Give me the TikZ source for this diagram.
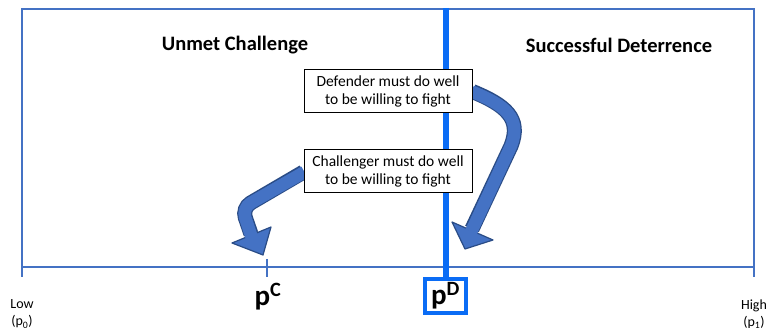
\documentclass[tikz,border=0pt]{standalone}
\usepackage{fontspec}
\setmainfont{Carlito}
\begin{document}
\begin{tikzpicture}[x=1pt,y=-1pt,
  framecol/.style={draw=axisblue,line width=1.5pt},
  tbox/.style={draw=black,line width=1pt,fill=white,align=center,font=\fontsize{15.5}{18}\selectfont,minimum width=168pt,minimum height=43pt,inner sep=2pt},
  title/.style={font=\fontsize{20.5}{24}\selectfont\bfseries},
  endlbl/.style={align=center,font=\fontsize{14}{17}\selectfont},
  plbl/.style={font=\fontsize{29}{32}\selectfont\bfseries},
  arrout/.style={draw=arrdark,line width=15pt},
  arrin/.style={draw=arrfill,line width=12.5pt},
  arrhead/.style={fill=arrfill,draw=arrdark,line width=1.2pt,line join=round}]
\definecolor{axisblue}{HTML}{4472C4}
\definecolor{vblue}{HTML}{0A6CF5}
\definecolor{arrfill}{HTML}{4472C4}
\definecolor{arrdark}{HTML}{2A4C86}
\useasboundingbox (0,0) rectangle (770,328);
% frame
\draw[framecol] (22,267) -- (22,9) -- (754,9) -- (754,267);
% axis
\coordinate (L) at (22,267);
\coordinate (R) at (754,267);
\draw[draw=axisblue,line width=2.5pt] (L) -- (R);
\draw[draw=axisblue,line width=2pt] (22,259) -- (22,277);
\draw[draw=axisblue,line width=2pt] (754,259) -- (754,277);
\draw[draw=axisblue,line width=2pt] (267,259) -- (267,277);
% titles
\node[title] (uc) at (235,45) {Unmet Challenge};
\node[title] (sd) at (619,45) {Successful Deterrence};
% pD box and vertical line
\node[draw=vblue,line width=4pt,fill=white,minimum width=41pt,minimum height=34pt,inner sep=0pt,plbl] (pD) at (445.5,296) {p\textsuperscript{D}};
\coordinate (vtop) at (445.5,8);
\draw[draw=vblue,line width=6pt] (vtop) -- (pD.north);
% pC
\node[plbl] (pC) at (268,297) {p\textsuperscript{C}};
% end labels
\node[endlbl] (low) at (22,314) {Low\\(p\textsubscript{0})};
\node[endlbl] (high) at (754,314) {High\\(p\textsubscript{1})};
% text boxes
\node[tbox] (def) at (388,91.5) {Defender must do well\\to be willing to fight};
\node[tbox] (cha) at (388,171) {Challenger must do well\\to be willing to fight};
% arrow 1 (defender)
\coordinate (a1s) at (def.east);
\coordinate (a1b) at (472,229);
\draw[arrout] (a1s) .. controls (505,105) and (522,118) .. (511,146) -- (a1b);
\draw[arrhead] (452,222) -- (493,240) -- (465,249) -- cycle;
\draw[arrin] ([xshift=-1pt]a1s) .. controls (505,105) and (522,118) .. (511,146) -- (471,232);
% arrow 2 (challenger)
\coordinate (a2s) at ([yshift=-1pt]cha.west);
\coordinate (a2b) at (251,234);
\draw[arrout,rounded corners=10pt] (a2s) -- (242,208) -- (a2b);
\draw[arrhead] (232,243) -- (271,227) -- (263,255) -- cycle;
\draw[arrin,rounded corners=10pt] ([xshift=1pt]a2s) -- (242,208) -- (252,238);
% redraw box borders over arrow starts
\node[tbox] at (def) {Defender must do well\\to be willing to fight};
\node[tbox] at (cha) {Challenger must do well\\to be willing to fight};
\end{tikzpicture}
\end{document}
